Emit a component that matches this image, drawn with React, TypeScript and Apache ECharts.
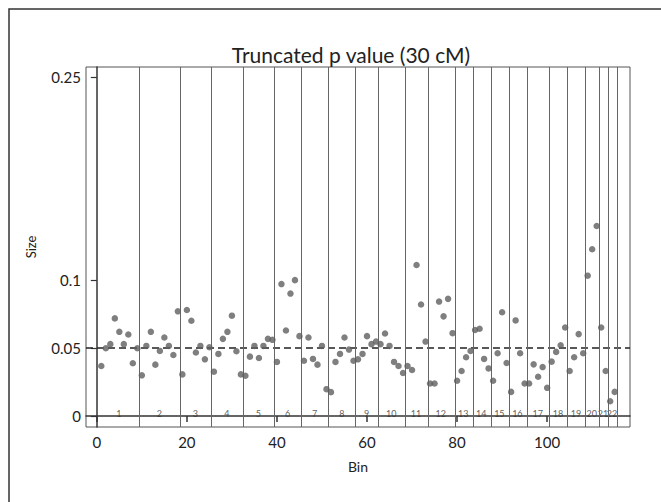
import React, { useEffect, useRef } from "react";
import * as echarts from "echarts";

const sizeValues: number[] = [
  0.0369, 0.05, 0.053, 0.072, 0.0621, 0.053, 0.0601, 0.0389, 0.05,
  0.03, 0.0517, 0.0621, 0.0379, 0.048, 0.0579, 0.0517, 0.045, 0.0772,
  0.0307, 0.0782, 0.0703, 0.0468, 0.0517, 0.0418, 0.0507,
  0.0327, 0.0458, 0.0569, 0.0621, 0.074, 0.0478, 0.0307,
  0.0297, 0.0438, 0.0517, 0.0428, 0.0517, 0.0569, 0.0562,
  0.0399, 0.0973, 0.0631, 0.0903, 0.1002, 0.0589,
  0.0408, 0.0579, 0.0421, 0.0379, 0.0517, 0.0198,
  0.0176, 0.0399, 0.0458, 0.0579, 0.049, 0.0408,
  0.0418, 0.0458, 0.0589, 0.053, 0.0549,
  0.053, 0.0609, 0.0517, 0.0399, 0.0369, 0.0317,
  0.0369, 0.0339, 0.1114, 0.0822, 0.0549,
  0.024, 0.024, 0.0844, 0.0735, 0.0864, 0.0611,
  0.026, 0.0332, 0.0433, 0.048,
  0.0634, 0.0644, 0.0421, 0.0351,
  0.026, 0.0463, 0.0765, 0.0391,
  0.0178, 0.0705, 0.0463, 0.024,
  0.024, 0.0381, 0.029, 0.0361, 0.0208,
  0.0401, 0.0473, 0.0522, 0.0653,
  0.0332, 0.0433, 0.0604, 0.0463,
  0.1035, 0.123, 0.1401,
  0.0653, 0.0332,
  0.0109, 0.0178,
];

// number of points in each chromosome bin (bins 1..22)
const binCounts: number[] = [9, 9, 7, 7, 7, 6, 6, 6, 5, 6, 5, 6, 4, 4, 4, 4, 5, 4, 4, 3, 2, 2];
const binLabels: string[] = binCounts.map((_, i) => String(i + 1));

const xTicks: number[] = [0, 20, 40, 60, 80, 100];
const yTicks: number[] = [0, 0.05, 0.1, 0.25];
const yTickLabels: string[] = ["0", "0.05", "0.1", "0.25"];
const threshold = 0.05;

export default function App() {
  const ref = useRef<HTMLDivElement>(null);

  useEffect(() => {
    if (!ref.current) return;
    const chart = echarts.init(ref.current, null, { renderer: "svg" });

    const points = sizeValues.map((v, i) => [i + 1, v]);
    const boundaries: number[] = [];
    const centers: number[] = [];
    let start = 1;
    binCounts.forEach((c) => {
      const end = start + c - 1;
      centers.push((start + end) / 2);
      boundaries.push(end + 0.5);
      start = end + 1;
    });

    const font = "Lato, 'Noto Sans', sans-serif";

    chart.setOption({
      animation: false,
      backgroundColor: "#ffffff",
      textStyle: { fontFamily: font },
      title: {
        text: "Truncated p value (30 cM)",
        left: 346,
        top: 39,
        textAlign: "center",
        textStyle: { fontSize: 21, fontWeight: "normal", color: "#222", fontFamily: font },
      },
      graphic: [
        {
          type: "rect",
          shape: { x: 9, y: 9, width: 700, height: 600 },
          style: { fill: "none", stroke: "#333", lineWidth: 1.5 },
          silent: true,
        },
      ],
      grid: {
        left: 86,
        right: 31,
        top: 67,
        bottom: 75,
        show: true,
        borderColor: "#555",
        borderWidth: 1,
        containLabel: false,
      },
      xAxis: {
        type: "value",
        min: -2.4,
        max: 118.4,
        name: "Bin",
        nameLocation: "middle",
        nameGap: 32,
        nameTextStyle: { fontSize: 14, color: "#222", fontFamily: font },
        splitLine: { show: false },
        axisLine: { show: true, lineStyle: { color: "#333", width: 1.5 } },
        axisTick: { show: true, length: 6, customValues: xTicks, lineStyle: { color: "#333", width: 1.5 } },
        axisLabel: { customValues: xTicks, fontSize: 15, color: "#222", margin: 7, fontFamily: font },
      },
      yAxis: {
        type: "value",
        min: -0.0081,
        max: 0.2574,
        name: "Size",
        nameLocation: "middle",
        nameGap: 49,
        nameTextStyle: { fontSize: 13, color: "#222", fontFamily: font },
        splitLine: { show: false },
        axisLine: { show: true, lineStyle: { color: "#333", width: 1.5 } },
        axisTick: { show: true, length: 6, customValues: yTicks, lineStyle: { color: "#333", width: 1.2 } },
        axisLabel: {
          customValues: yTicks,
          fontSize: 15,
          color: "#222",
          margin: 5,
          fontFamily: font,
          formatter: (v: number) => {
            const idx = yTicks.findIndex((t) => Math.abs(t - v) < 1e-9);
            return idx >= 0 ? yTickLabels[idx] : "";
          },
        },
      },
      series: [
        {
          type: "scatter",
          data: points,
          symbol: "circle",
          symbolSize: 6.5,
          itemStyle: { color: "#5f5f5f" },
          z: 5,
          markLine: {
            silent: true,
            symbol: "none",
            label: { show: false },
            data: [
              {
                yAxis: threshold,
                lineStyle: { color: "#222", width: 1.5, type: [7, 4] },
              },
              ...boundaries.map((b) => ({
                xAxis: b,
                lineStyle: { color: "#666", width: 1, type: "solid" },
              })),
            ],
          },
        },
        {
          type: "scatter",
          data: centers.map((c, i) => ({ value: [c, 0.0015], name: binLabels[i] })),
          symbol: "circle",
          symbolSize: 1,
          silent: true,
          itemStyle: { color: "rgba(0,0,0,0)" },
          label: {
            show: true,
            position: [0, 0],
            align: "center",
            verticalAlign: "middle",
            formatter: (p: any) => p.name,
            fontSize: 9,
            color: "#333",
            fontFamily: font,
          },
          z: 4,
        },
      ],
    });

    return () => chart.dispose();
  }, []);

  return (
    <div
      ref={ref}
      style={{ position: "fixed", left: 0, top: 0, width: 661, height: 502 }}
    />
  );
}
